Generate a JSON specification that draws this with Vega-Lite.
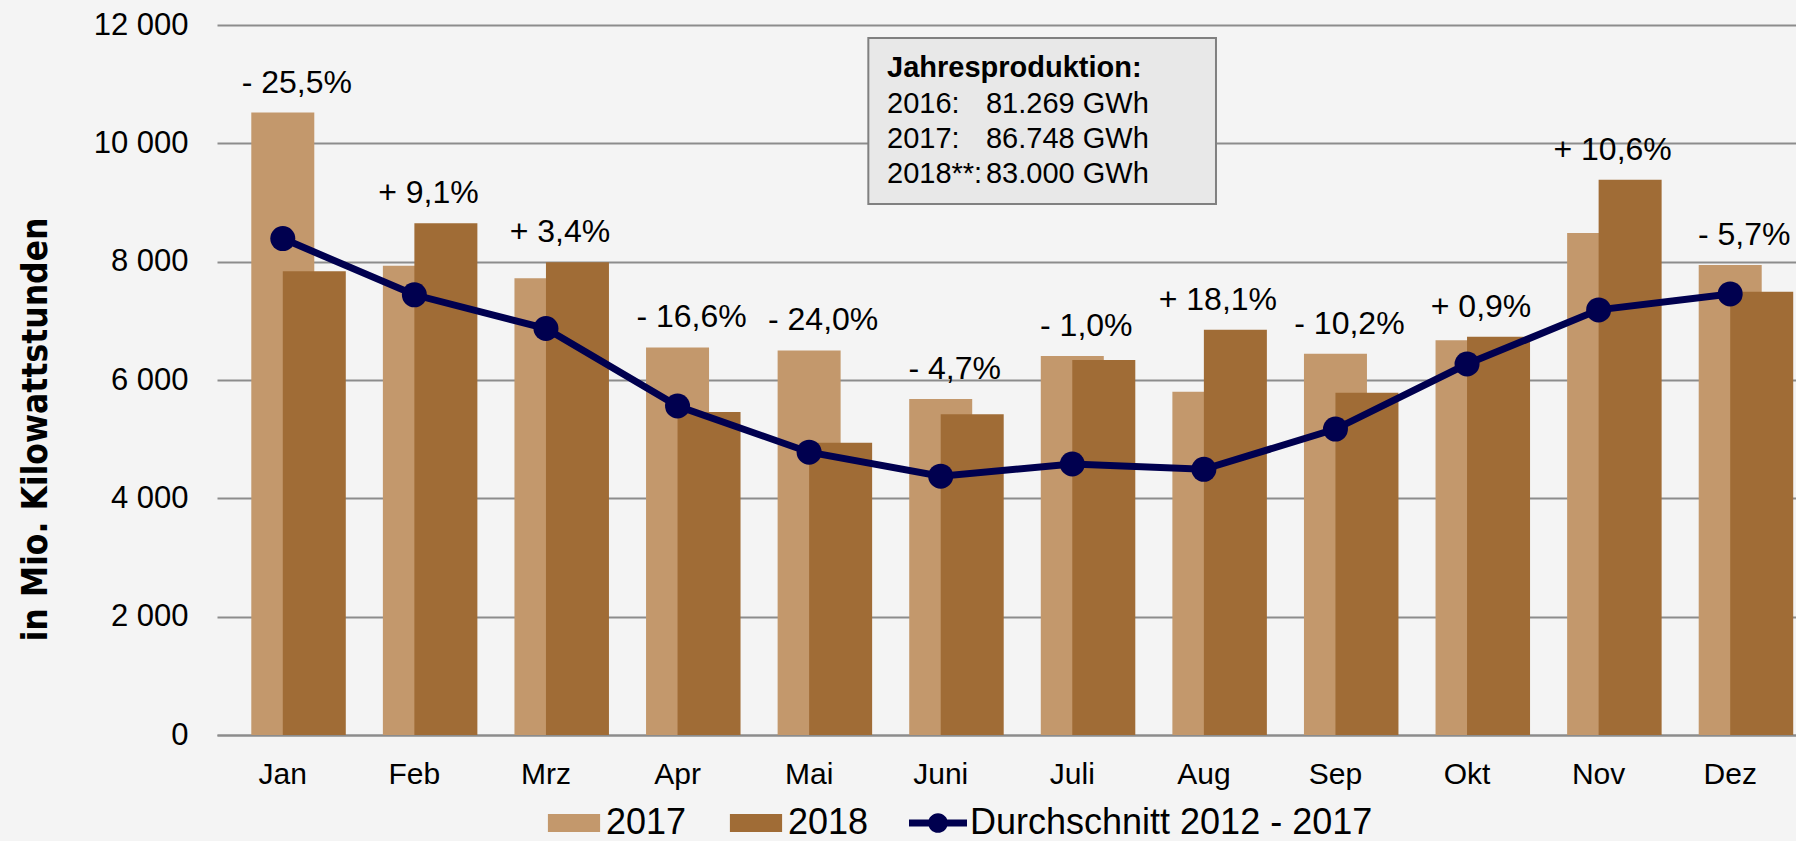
{
  "$schema": "https://vega.github.io/schema/vega-lite/v6.json",
  "width": 1579,
  "height": 710,
  "autosize": {"type": "none"},
  "padding": {"left": 217, "top": 25, "right": 0, "bottom": 106},
  "background": "#f4f4f4",
  "config": {"view": {"stroke": null}, "font": "Liberation Sans"},
  "datasets": {
    "monthly": [
      {"month": "Jan", "2017": 10520, "2018": 7840, "avg": 8390, "pct": "- 25,5%"},
      {"month": "Feb", "2017": 7930, "2018": 8650, "avg": 7440, "pct": "+ 9,1%"},
      {"month": "Mrz", "2017": 7720, "2018": 7990, "avg": 6870, "pct": "+ 3,4%"},
      {"month": "Apr", "2017": 6550, "2018": 5460, "avg": 5560, "pct": "- 16,6%"},
      {"month": "Mai", "2017": 6500, "2018": 4940, "avg": 4780, "pct": "- 24,0%"},
      {"month": "Juni", "2017": 5680, "2018": 5420, "avg": 4375, "pct": "- 4,7%"},
      {"month": "Juli", "2017": 6405, "2018": 6340, "avg": 4580, "pct": "- 1,0%"},
      {"month": "Aug", "2017": 5800, "2018": 6850, "avg": 4490, "pct": "+ 18,1%"},
      {"month": "Sep", "2017": 6445, "2018": 5785, "avg": 5170, "pct": "- 10,2%"},
      {"month": "Okt", "2017": 6670, "2018": 6730, "avg": 6270, "pct": "+ 0,9%"},
      {"month": "Nov", "2017": 8485, "2018": 9385, "avg": 7185, "pct": "+ 10,6%"},
      {"month": "Dez", "2017": 7945, "2018": 7490, "avg": 7455, "pct": "- 5,7%"}
    ],
    "boxTitle": [{"title": "Jahresproduktion:"}],
    "box": [
      {"label": "2016:", "gwh": "81.269 GWh"},
      {"label": "2017:", "gwh": "86.748 GWh"},
      {"label": "2018**:", "gwh": "83.000 GWh"}
    ]
  },
  "data": {"name": "monthly"},
  "layer": [
    {
      "transform": [
        {"fold": ["2017", "2018"], "as": ["series", "value"]},
        {"filter": "datum.series == '2017'"}
      ],
      "mark": {"type": "bar", "width": 63},
      "encoding": {
        "x": {
          "field": "month", "type": "ordinal",
          "sort": ["Jan","Feb","Mrz","Apr","Mai","Juni","Juli","Aug","Sep","Okt","Nov","Dez"],
          "scale": {"paddingInner": 0, "paddingOuter": 0},
          "axis": {
            "title": null, "labelAngle": 0, "labelFontSize": 30, "labelColor": "#000000",
            "ticks": false, "tickSize": 0, "domain": true, "domainColor": "#8c8c8c", "domainWidth": 2,
            "labelPadding": 48, "labelBaseline": "alphabetic", "grid": false
          }
        },
        "y": {
          "field": "value", "type": "quantitative",
          "scale": {"domain": [0, 12000], "nice": false, "zero": true},
          "axis": {
            "values": [0, 2000, 4000, 6000, 8000, 10000, 12000],
            "labelExpr": "replace(format(datum.value, ','), ',', ' ')",
            "labelFontSize": 31, "labelColor": "#000000", "labelPadding": 29,
            "ticks": false, "tickSize": 0, "domain": false,
            "grid": true, "gridColor": "#8c8c8c", "gridWidth": 2,
            "title": "in Mio. Kilowattstunden",
            "titleFont": "DejaVu Sans Condensed, Liberation Sans", "titleFontWeight": "bold", "titleFontSize": 35,
            "titleColor": "#000000", "titleAngle": 270, "titleAlign": "center",
            "titleBaseline": "alphabetic", "titleX": -171, "titleY": 404
          }
        },
        "color": {
          "field": "series", "type": "nominal",
          "scale": {
            "domain": ["2017", "2018", "Durchschnitt 2012 - 2017"],
            "range": ["#c3986c", "#a06c36", "#00004f"]
          },
          "legend": {
            "orient": "none", "legendX": 328, "legendY": 769, "direction": "horizontal", "columns": 3,
            "title": null, "labelFontSize": 36, "labelColor": "#000000", "labelFont": "Liberation Sans",
            "labelLimit": 1000,
            "symbolSize": 3364, "symbolStrokeWidth": 0, "labelOffset": 3, "columnPadding": 40, "padding": 0,
            "symbolOpacity": 1,
            "symbolType": {"expr": "datum.value == 'Durchschnitt 2012 - 2017' ? 'M-1,-0.12H1V0.12H-1Z M-0.34,0A0.34,0.34,0,1,1,0.34,0A0.34,0.34,0,1,1,-0.34,0Z' : 'M-0.9,-0.31H0.9V0.31H-0.9Z'"}
          }
        }
      }
    },
    {
      "transform": [
        {"fold": ["2017", "2018"], "as": ["series", "value"]},
        {"filter": "datum.series == '2018'"}
      ],
      "mark": {"type": "bar", "width": 63, "xOffset": 31.5},
      "encoding": {
        "x": {"field": "month", "type": "ordinal", "sort": ["Jan","Feb","Mrz","Apr","Mai","Juni","Juli","Aug","Sep","Okt","Nov","Dez"]},
        "y": {"field": "value", "type": "quantitative"},
        "color": {"field": "series", "type": "nominal"}
      }
    },
    {
      "mark": {"type": "line", "strokeWidth": 7},
      "encoding": {
        "x": {"field": "month", "type": "ordinal", "sort": ["Jan","Feb","Mrz","Apr","Mai","Juni","Juli","Aug","Sep","Okt","Nov","Dez"]},
        "y": {"field": "avg", "type": "quantitative"},
        "color": {"datum": "Durchschnitt 2012 - 2017"}
      }
    },
    {
      "mark": {"type": "point", "filled": true, "size": 625, "opacity": 1, "shape": "circle"},
      "encoding": {
        "x": {"field": "month", "type": "ordinal", "sort": ["Jan","Feb","Mrz","Apr","Mai","Juni","Juli","Aug","Sep","Okt","Nov","Dez"]},
        "y": {"field": "avg", "type": "quantitative"},
        "color": {"datum": "Durchschnitt 2012 - 2017"}
      }
    },
    {
      "transform": [{"calculate": "max(datum['2017'], datum['2018'])", "as": "top"}],
      "mark": {"type": "text", "fontSize": 32, "color": "#000000", "dx": 14, "dy": -30, "baseline": "middle", "align": "center"},
      "encoding": {
        "x": {"field": "month", "type": "ordinal", "sort": ["Jan","Feb","Mrz","Apr","Mai","Juni","Juli","Aug","Sep","Okt","Nov","Dez"]},
        "y": {"field": "top", "type": "quantitative"},
        "text": {"field": "pct"}
      }
    },
    {
      "data": {"name": "boxTitle"},
      "mark": {"type": "rect", "fill": "#e8e8e8", "stroke": "#808080", "strokeWidth": 2},
      "encoding": {
        "x": {"datum": "Mai", "bandPosition": 0.95},
        "x2": {"datum": "Aug", "bandPosition": 0.592},
        "y": {"datum": 11780},
        "y2": {"datum": 8974}
      }
    },
    {
      "data": {"name": "boxTitle"},
      "mark": {"type": "text", "fontSize": 29, "fontWeight": "bold", "color": "#000000", "align": "left", "baseline": "alphabetic"},
      "encoding": {
        "x": {"datum": "Juni", "bandPosition": 0.092},
        "y": {"datum": 11126},
        "text": {"field": "title"}
      }
    },
    {
      "data": {"name": "box"},
      "mark": {"type": "text", "fontSize": 29, "color": "#000000", "align": "left", "baseline": "alphabetic"},
      "encoding": {
        "x": {"datum": "Juni", "bandPosition": 0.092},
        "y": {"datum": 10518},
        "yOffset": {"field": "label", "type": "nominal", "sort": ["2016:", "2017:", "2018**:"], "scale": {"range": [0, 70.6], "paddingInner": 0, "paddingOuter": 0}},
        "text": {"field": "label"}
      }
    },
    {
      "data": {"name": "box"},
      "mark": {"type": "text", "fontSize": 29, "color": "#000000", "align": "left", "baseline": "alphabetic"},
      "encoding": {
        "x": {"datum": "Juni", "bandPosition": 0.844},
        "y": {"datum": 10518},
        "yOffset": {"field": "label", "type": "nominal", "sort": ["2016:", "2017:", "2018**:"], "scale": {"range": [0, 70.6], "paddingInner": 0, "paddingOuter": 0}},
        "text": {"field": "gwh"}
      }
    }
  ]
}
